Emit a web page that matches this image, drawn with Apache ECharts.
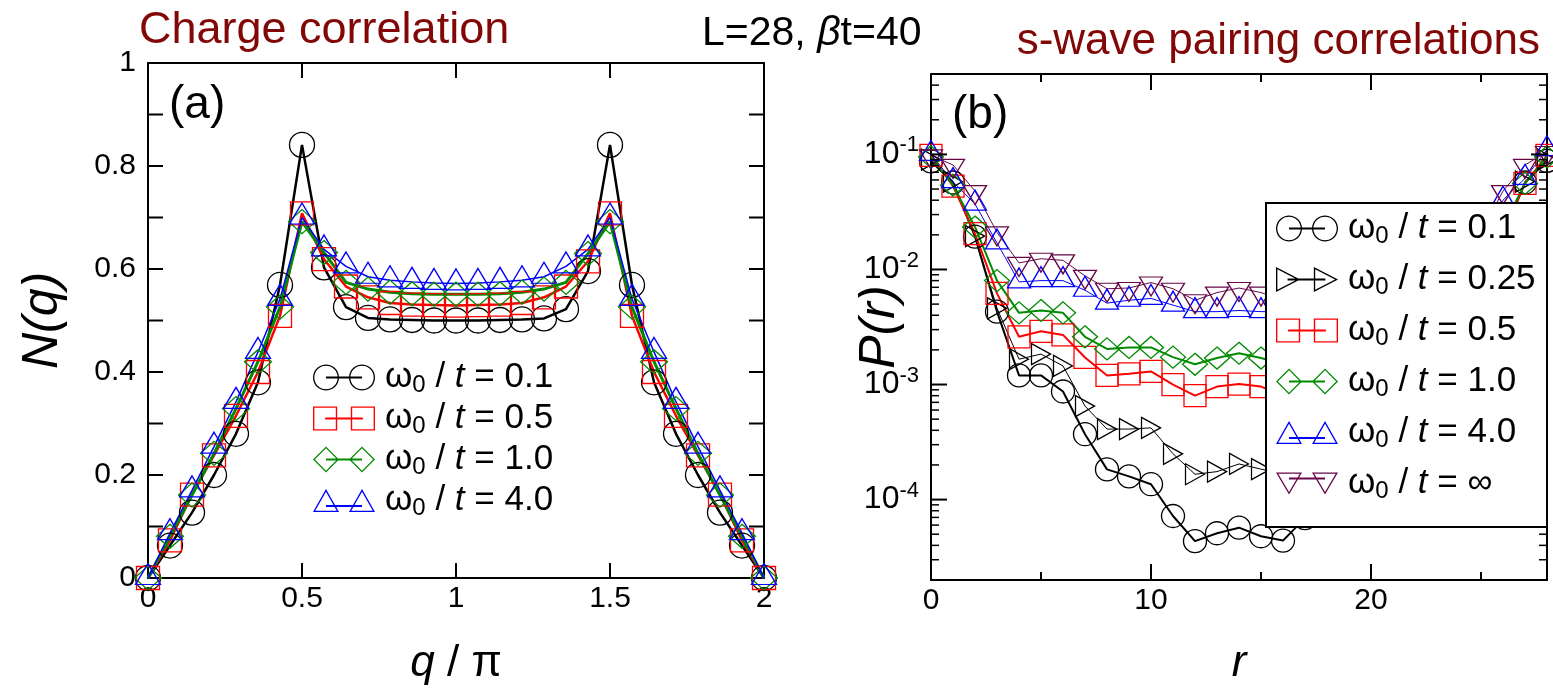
<!DOCTYPE html>
<html><head><meta charset="utf-8">
<script src="https://cdn.jsdelivr.net/npm/echarts@6/dist/echarts.min.js"></script>
<style>html,body{margin:0;padding:0;background:#fff}#c{width:1553px;height:691px}</style>
</head><body><div id="c"></div>
<script>
// ---------- DATA ----------
const qVals = [0, 0.0714, 0.1429, 0.2143, 0.2857, 0.3571, 0.4286, 0.5, 0.5714, 0.6429, 0.7143, 0.7857, 0.8571, 0.9286, 1,
  1.0714, 1.1429, 1.2143, 1.2857, 1.3571, 1.4286, 1.5, 1.5714, 1.6429, 1.7143, 1.7857, 1.8571, 1.9286, 2];
const N_w01 = [0, 0.063, 0.127, 0.200, 0.280, 0.380, 0.569, 0.841, 0.603, 0.526, 0.505, 0.502, 0.501, 0.500, 0.500,
  0.500, 0.501, 0.502, 0.504, 0.522, 0.596, 0.841, 0.569, 0.380, 0.280, 0.200, 0.127, 0.063, 0];
const N_w05 = [0, 0.073, 0.162, 0.238, 0.315, 0.400, 0.509, 0.708, 0.619, 0.566, 0.545, 0.534, 0.531, 0.530, 0.529,
  0.530, 0.531, 0.534, 0.545, 0.566, 0.615, 0.708, 0.509, 0.400, 0.315, 0.238, 0.162, 0.073, 0];
const N_w10 = [0, 0.081, 0.161, 0.242, 0.329, 0.420, 0.526, 0.692, 0.632, 0.574, 0.561, 0.555, 0.552, 0.551, 0.551,
  0.551, 0.552, 0.555, 0.561, 0.574, 0.630, 0.692, 0.526, 0.420, 0.329, 0.242, 0.161, 0.081, 0];
const N_w40 = [0, 0.087, 0.170, 0.255, 0.342, 0.439, 0.542, 0.700, 0.638, 0.605, 0.585, 0.578, 0.575, 0.573, 0.572,
  0.573, 0.575, 0.578, 0.585, 0.605, 0.638, 0.700, 0.542, 0.439, 0.342, 0.255, 0.170, 0.087, 0];

const rVals = [0,1,2,3,4,5,6,7,8,9,10,11,12,13,14,15,16,17,18,19,20,21,22,23,24,25,26,27,28];
const P_w01 = [0.087, 0.057, 0.0193, 0.0043, 0.0012, 0.0012, 0.00087, 0.00037, 0.000183, 0.000159, 0.000136, 7.2e-5, 4.35e-5, 5.1e-5, 5.7e-5,
  4.8e-5, 4.4e-5, 6.9e-5, 0.000135, 0.00016, 0.000185, 0.00037, 0.00087, 0.0012, 0.0012, 0.0043, 0.0195, 0.057, 0.088];
const P_w025 = [0.09, 0.058, 0.0195, 0.0046, 0.00166, 0.00184, 0.00145, 0.00065, 0.00041, 0.00041, 0.00042, 0.00025, 0.000166, 0.000175, 0.000204,
  0.000184, 0.000166, 0.00025, 0.00042, 0.00041, 0.00041, 0.00065, 0.00145, 0.00184, 0.00166, 0.0046, 0.0195, 0.058, 0.09];
const P_w05 = [0.098, 0.053, 0.0205, 0.0062, 0.0026, 0.0029, 0.0027, 0.00172, 0.0012, 0.00124, 0.0013, 0.001, 0.0008, 0.00096, 0.00101,
  0.00096, 0.0008, 0.001, 0.0013, 0.00124, 0.0012, 0.00172, 0.0027, 0.0029, 0.0026, 0.0062, 0.0205, 0.056, 0.098];
const P_w10 = [0.095, 0.054, 0.0234, 0.008, 0.0042, 0.0044, 0.0042, 0.0026, 0.00204, 0.0021, 0.0021, 0.00173, 0.0015, 0.0017, 0.00187,
  0.0017, 0.0015, 0.00173, 0.0021, 0.0021, 0.00204, 0.0026, 0.0042, 0.0044, 0.0042, 0.008, 0.0234, 0.056, 0.095];
const P_w40 = [0.1, 0.058, 0.037, 0.017, 0.0078, 0.008, 0.008, 0.0066, 0.0051, 0.0054, 0.0056, 0.0049, 0.0043, 0.0043, 0.0044,
  0.0043, 0.0043, 0.0049, 0.0056, 0.0054, 0.0051, 0.0066, 0.008, 0.008, 0.0078, 0.017, 0.04, 0.062, 0.11];
const P_inf = [0.098, 0.081, 0.048, 0.021, 0.0114, 0.0124, 0.012, 0.0088, 0.0068, 0.0069, 0.0077, 0.0068, 0.0054, 0.0063, 0.0069,
  0.0063, 0.0054, 0.0068, 0.0077, 0.0069, 0.0068, 0.0088, 0.012, 0.0124, 0.0114, 0.021, 0.048, 0.081, 0.105];

const legendValsA = ['0.1', '0.5', '1.0', '4.0'];
const legendValsB = ['0.1', '0.25', '0.5', '1.0', '4.0', '∞'];

// ticks / labels
const aXTicks = [0.5, 1, 1.5];
const aXLabels = [0, 0.5, 1, 1.5, 2];
const aYTicks = [0.1, 0.2, 0.3, 0.4, 0.5, 0.6, 0.7, 0.8, 0.9];
const aYLabels = [0, 0.2, 0.4, 0.6, 0.8, 1];
const bXMajor = [10, 20];
const bXMinor = [5, 15, 25];
const bXLabels = [0, 10, 20];
const bYMajor = [1e-4, 1e-3, 1e-2, 1e-1];
const bYMinor = [3e-5, 4e-5, 5e-5, 6e-5, 7e-5, 8e-5, 9e-5,
  2e-4, 3e-4, 4e-4, 5e-4, 6e-4, 7e-4, 8e-4, 9e-4,
  2e-3, 3e-3, 4e-3, 5e-3, 6e-3, 7e-3, 8e-3, 9e-3,
  2e-2, 3e-2, 4e-2, 5e-2, 6e-2, 7e-2, 8e-2, 9e-2,
  0.2, 0.3, 0.4];

// ---------- STYLE ----------
const FF = '"Liberation Sans", Arial, Helvetica, sans-serif';
const C = { black: '#000000', red: '#ff0000', green: '#008b00', blue: '#0000ff', maroon: '#670748', title: '#820808' };

function fmt(n){ return n.toFixed(2); }
function poly(pts){ return 'M' + pts.map(p => fmt(p[0]) + ' ' + fmt(p[1])).join(' L') + ' Z '; }
function triIn(pts){
  const d = (a,b) => Math.hypot(a[0]-b[0], a[1]-b[1]);
  const a = d(pts[1],pts[2]), b = d(pts[0],pts[2]), c = d(pts[0],pts[1]);
  const p = a+b+c;
  const cx = (a*pts[0][0]+b*pts[1][0]+c*pts[2][0])/p, cy = (a*pts[0][1]+b*pts[1][1]+c*pts[2][1])/p;
  const area = Math.abs((pts[1][0]-pts[0][0])*(pts[2][1]-pts[0][1]) - (pts[2][0]-pts[0][0])*(pts[1][1]-pts[0][1]))/2;
  return { c: [cx, cy], r: 2*area/p };
}
function shape(kind, cx){
  let pts, c, r;
  if (kind === 'circle') {
    pts = []; for (let i = 0; i < 40; i++) { const t = Math.PI + i*2*Math.PI/40; pts.push([cx + 13*Math.cos(t), 13 + 13*Math.sin(t)]); }
    c = [cx, 13]; r = 13;
  } else if (kind === 'rect') {
    pts = [[cx-11.5,1.5],[cx+11.5,1.5],[cx+11.5,24.5],[cx-11.5,24.5]]; c = [cx,13]; r = 11.5;
  } else if (kind === 'diamond') {
    pts = [[cx,0],[cx+13,13],[cx,26],[cx-13,13]]; c = [cx,13]; r = 13/Math.SQRT2;
  } else if (kind === 'up') {
    pts = [[cx,1],[cx+13,24],[cx-13,24]]; ({c, r} = triIn(pts));
  } else if (kind === 'right') {
    pts = [[cx-11,1],[cx+12,13],[cx-11,25]]; ({c, r} = triIn(pts));
  } else {
    pts = [[cx-13,2],[cx+13,2],[cx,24]]; ({c, r} = triIn(pts));
  }
  const t = 1.3, k = (r - t)/r;
  const inner = pts.map(p => [c[0] + (p[0]-c[0])*k, c[1] + (p[1]-c[1])*k]).reverse();
  return poly(pts) + poly(inner);
}
function icon(kind, lineY){
  const y = lineY == null ? 13 : lineY;
  return 'path://' + shape(kind, 13) + shape(kind, 49) + 'M13 ' + (y-1) + ' L49 ' + (y-1) + ' L49 ' + (y+1) + ' L13 ' + (y+1) + ' Z';
}

const legendRich = {
  w: { fontSize: 35, lineHeight: 40, fontFamily: FF, color: '#000', verticalAlign: 'middle', padding: [0,0,0,5] },
  s: { fontSize: 24, lineHeight: 8, fontFamily: FF, color: '#000', verticalAlign: 'bottom' },
  n: { fontSize: 35, lineHeight: 40, fontFamily: FF, color: '#000', verticalAlign: 'middle' },
  i: { fontSize: 35, lineHeight: 40, fontFamily: FF, color: '#000', fontStyle: 'italic', verticalAlign: 'middle' }
};
function legendText(v){ return '{w|ω}{s|0}{n| / }{i|t}{n| = ' + v + '}'; }

const seriesA = [
  { name: 'a0', data: N_w01, color: C.black, symbol: 'circle', size: 25, lw: 2.5, kind: 'circle' },
  { name: 'a1', data: N_w05, color: C.red, symbol: 'rect', size: 23, lw: 2.5, kind: 'rect' },
  { name: 'a2', data: N_w10, color: C.green, symbol: 'diamond', size: [27,24], lw: 3, kind: 'diamond' },
  { name: 'a3', data: N_w40, color: C.blue, symbol: 'triangle', size: [25,21], lw: 1.5, kind: 'up', offset: [0,-4], ly: 18 }
];
const seriesB = [
  { name: 'b0', data: P_w01, color: C.black, symbol: 'circle', size: 23, lw: 2, kind: 'circle' },
  { name: 'b1', data: P_w025, color: C.black, symbol: 'triangle', size: [21,19], rot: -90, lw: 1, kind: 'right' },
  { name: 'b2', data: P_w05, color: C.red, symbol: 'rect', size: 22, lw: 2, kind: 'rect' },
  { name: 'b3', data: P_w10, color: C.green, symbol: 'diamond', size: [25,22], lw: 2, kind: 'diamond' },
  { name: 'b4', data: P_w40, color: C.blue, symbol: 'triangle', size: [23,20], lw: 1, kind: 'up', offset: [0,-4], ly: 18 },
  { name: 'b5', data: P_inf, color: C.maroon, symbol: 'triangle', size: [23,19], rot: 180, lw: 1, kind: 'down', offset: [0,4], ly: 8 }
];

function mkSeries(s, xs, xi, yi){
  return {
    type: 'line', name: s.name, xAxisIndex: xi, yAxisIndex: yi,
    data: xs.map((x, i) => [x, s.data[i]]),
    symbol: s.symbol, symbolSize: s.size, symbolRotate: s.rot || 0, symbolOffset: s.offset || [0,0],
    showAllSymbol: true, clip: false, animation: false,
    lineStyle: { color: s.color, width: s.lw },
    itemStyle: { color: 'rgba(0,0,0,0)', borderColor: s.color, borderWidth: 1.3 },
    emphasis: { disabled: true }
  };
}

// inward tick marks (thin filled rects) on both opposite frame sides, placed through the axis scales
function tickSeries(xi, yi, dim, values, ref, len, w){
  return {
    type: 'custom', xAxisIndex: xi, yAxisIndex: yi, silent: true, clip: false, z: 6,
    data: values.map(v => dim === 'x' ? [v, ref] : [ref, v]),
    renderItem: (params, api) => {
      const cs = params.coordSys;
      const p = api.coord([api.value(0), api.value(1)]);
      if (dim === 'x') {
        const b = cs.y + cs.height, t = cs.y;
        return { type: 'group', children: [
          { type: 'rect', shape: { x: p[0] - w/2, y: b - len, width: w, height: len }, style: { fill: '#000' } },
          { type: 'rect', shape: { x: p[0] - w/2, y: t, width: w, height: len }, style: { fill: '#000' } } ] };
      }
      const l = cs.x, r = cs.x + cs.width;
      return { type: 'group', children: [
        { type: 'rect', shape: { x: l, y: p[1] - w/2, width: len, height: w }, style: { fill: '#000' } },
        { type: 'rect', shape: { x: r - len, y: p[1] - w/2, width: len, height: w }, style: { fill: '#000' } } ] };
    }
  };
}

const lineBase = { show: true, onZero: false, lineStyle: { color: '#000', width: 2 } };
const noTick = { show: false };
const noLabel = { show: false };
const noSplit = { show: false };

const xAxis = [
  { gridIndex: 0, type: 'value', min: 0, max: 2, interval: 0.5, position: 'bottom',
    axisLine: lineBase, axisTick: noTick,
    axisLabel: { color: '#000', fontSize: 30, fontFamily: FF, margin: 6, formatter: v => (aXLabels.indexOf(v) >= 0 ? String(v) : '') },
    splitLine: noSplit,
    name: '{i|q}{n| / π}', nameLocation: 'middle', nameGap: 64, nameMoveOverlap: false,
    nameTextStyle: { rich: { i: { fontSize: 44, fontStyle: 'italic', fontFamily: FF, color: '#000' }, n: { fontSize: 44, fontFamily: FF, color: '#000' } } } },
  { gridIndex: 0, type: 'value', min: 0, max: 2, interval: 0.5, position: 'top',
    axisLine: lineBase, axisTick: noTick, axisLabel: noLabel, splitLine: noSplit },
  { gridIndex: 1, type: 'value', min: 0, max: 28, interval: 10, position: 'bottom',
    axisLine: lineBase, axisTick: noTick,
    axisLabel: { color: '#000', fontSize: 30, fontFamily: FF, margin: 6, showMaxLabel: false, formatter: v => (bXLabels.indexOf(v) >= 0 ? String(v) : '') },
    splitLine: noSplit,
    name: 'r', nameLocation: 'middle', nameGap: 62, nameMoveOverlap: false,
    nameTextStyle: { fontSize: 44, fontStyle: 'italic', fontFamily: FF, color: '#000' } },
  { gridIndex: 1, type: 'value', min: 0, max: 28, interval: 10, position: 'top',
    axisLine: lineBase, axisTick: noTick, axisLabel: noLabel, splitLine: noSplit }
];

function logLabel(v){
  const e = Math.log10(v);
  if (Math.abs(e - Math.round(e)) > 1e-6) return '';
  return '{b|10}{s|' + Math.round(e) + '}';
}
const yAxis = [
  { gridIndex: 0, type: 'value', min: 0, max: 1, interval: 0.1, position: 'left',
    axisLine: lineBase, axisTick: noTick,
    axisLabel: { color: '#000', fontSize: 30, fontFamily: FF, margin: 12,
      formatter: v => { const m = aYLabels.find(x => Math.abs(x - v) < 1e-9); return m === undefined ? '' : String(m); } },
    splitLine: noSplit,
    name: 'N(q)', nameLocation: 'middle', nameGap: 80, nameRotate: 90, nameMoveOverlap: false,
    nameTextStyle: { fontSize: 50, fontStyle: 'italic', fontFamily: FF, color: '#000' } },
  { gridIndex: 0, type: 'value', min: 0, max: 1, interval: 0.1, position: 'right',
    axisLine: lineBase, axisTick: noTick, axisLabel: noLabel, splitLine: noSplit },
  { gridIndex: 1, type: 'log', min: 2e-5, max: 0.5, position: 'left',
    axisLine: lineBase, axisTick: noTick,
    axisLabel: { color: '#000', fontSize: 32, fontFamily: FF, margin: 12, customValues: bYMajor, formatter: logLabel,
      rich: { b: { fontSize: 32, lineHeight: 40, fontFamily: FF, color: '#000', verticalAlign: 'middle' },
              s: { fontSize: 22, lineHeight: 16, fontFamily: FF, color: '#000', verticalAlign: 'top' } } },
    splitLine: noSplit, minorTick: { show: false },
    name: 'P(r)', nameLocation: 'middle', nameGap: 26, nameRotate: 90, nameMoveOverlap: false,
    nameTextStyle: { fontSize: 50, fontStyle: 'italic', fontFamily: FF, color: '#000' } },
  { gridIndex: 1, type: 'log', min: 2e-5, max: 0.5, position: 'right',
    axisLine: lineBase, axisTick: noTick, axisLabel: noLabel, splitLine: noSplit }
];

const series = [];
seriesA.forEach(s => series.push(mkSeries(s, qVals, 0, 0)));
seriesB.forEach(s => series.push(mkSeries(s, rVals, 2, 2)));
series.push(tickSeries(0, 0, 'x', aXTicks, 0.5, 15, 2));
series.push(tickSeries(0, 0, 'y', aYTicks, 1, 15, 2));
series.push(tickSeries(2, 2, 'x', bXMajor, 1e-3, 16, 2));
series.push(tickSeries(2, 2, 'x', bXMinor, 1e-3, 8, 2));
series.push(tickSeries(2, 2, 'y', bYMajor, 14, 16, 2));
series.push(tickSeries(2, 2, 'y', bYMinor, 14, 8, 1.5));

function legendData(list){
  return list.map(s => ({ name: s.name, icon: icon(s.kind, s.ly), itemStyle: { color: s.color, borderWidth: 0, borderColor: 'transparent' } }));
}
const labelMap = {};
seriesA.forEach((s, i) => labelMap[s.name] = legendText(legendValsA[i]));
seriesB.forEach((s, i) => labelMap[s.name] = legendText(legendValsB[i]));

const option = {
  animation: false,
  textStyle: { fontFamily: FF },
  grid: [
    { left: 148, top: 63, width: 616, height: 517 },
    { left: 931, top: 74, width: 616, height: 518 }
  ],
  title: [
    { text: 'Charge correlation', left: 134, top: 3, textStyle: { color: C.title, fontSize: 45, fontWeight: 'normal', fontFamily: FF } },
    { text: 'L=28, {b|β}t=40', left: 697, top: 8, textStyle: { color: '#000', fontSize: 41, fontWeight: 'normal', fontFamily: FF,
        rich: { b: { fontSize: 41, fontStyle: 'italic', fontFamily: FF, color: '#000' } } } },
    { text: 's-wave pairing correlations', right: 8, top: 15, textStyle: { color: C.title, fontSize: 44, fontWeight: 'normal', fontFamily: FF } },
    { text: '(a)', left: 164, top: 77, textStyle: { color: '#000', fontSize: 46, fontWeight: 'normal', fontFamily: FF } },
    { text: '(b)', left: 947, top: 87, textStyle: { color: '#000', fontSize: 46, fontWeight: 'normal', fontFamily: FF } }
  ],
  legend: [
    { orient: 'vertical', left: 313, top: 360, padding: 0, itemGap: 3.5, itemWidth: 62, itemHeight: 26,
      selectedMode: false, data: legendData(seriesA), formatter: n => labelMap[n], textStyle: { rich: legendRich }, z: 110 },
    { orient: 'vertical', left: 1276, top: 211, padding: 0, itemGap: 13.5, itemWidth: 62, itemHeight: 26,
      selectedMode: false, data: legendData(seriesB), formatter: n => labelMap[n], textStyle: { rich: legendRich }, z: 110 }
  ],
  graphic: [
    { type: 'rect', z: 100, shape: { x: 1266, y: 203, width: 281, height: 324 },
      style: { fill: '#fff', stroke: '#000', lineWidth: 2 } }
  ],
  xAxis: xAxis,
  yAxis: yAxis,
  series: series
};
const chart = echarts.init(document.getElementById('c'), null, { renderer: 'canvas' });
chart.setOption(option);
</script></body></html>
